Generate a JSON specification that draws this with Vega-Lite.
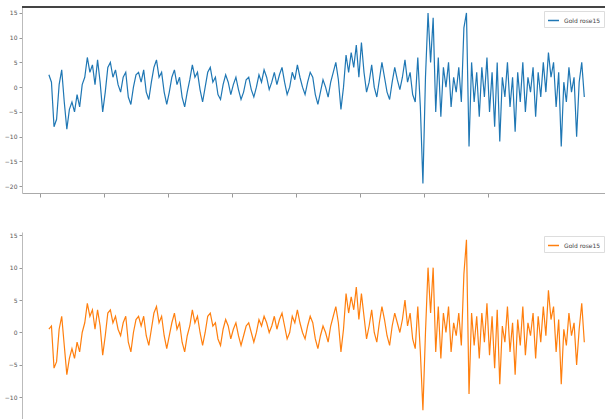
{
"$schema": "https://vega.github.io/schema/vega-lite/v6.json",
"padding": {"left": 4, "top": 6, "right": 0, "bottom": 0},
"autosize": {"type": "pad"},
"background": "white",
"config": {
  "view": {"stroke": null},
  "font": "DejaVu Sans",
  "axis": {"grid": false, "labelFontSize": 6, "labelColor": "#555", "domainColor": "#bbb", "tickColor": "#999", "tickSize": 3, "labelPadding": 2, "title": null},
  "legend": {"labelFontSize": 6, "labelColor": "#444", "symbolType": "stroke", "symbolStrokeWidth": 1.5, "symbolSize": 120, "strokeColor": "#ddd", "padding": 3, "orient": "top-right", "offset": 4, "title": null, "fillColor": "white"}
},
"data": {"values": [
{"t":14,"a":2.5,"b":0.5},{"t":18,"a":1,"b":1},{"t":22,"a":-8,"b":-5.5},{"t":26,"a":-6.5,"b":-4.5},{"t":30,"a":0.5,"b":0.5},{"t":34,"a":3.5,"b":2.5},{"t":38,"a":-3,"b":-2},{"t":42,"a":-8.5,"b":-6.5},{"t":46,"a":-4.5,"b":-4},{"t":50,"a":-3,"b":-2.5},
{"t":54,"a":-5,"b":-4},{"t":58,"a":-1.5,"b":-1.5},{"t":62,"a":-4,"b":-3},{"t":66,"a":0.5,"b":0},{"t":70,"a":2,"b":1.5},{"t":74,"a":6,"b":4.5},{"t":78,"a":3,"b":2.5},{"t":82,"a":4.5,"b":3.5},{"t":86,"a":0.5,"b":0.5},{"t":90,"a":5.5,"b":3.5},
{"t":94,"a":1,"b":1},{"t":98,"a":-5,"b":-3.5},{"t":102,"a":-1,"b":-0.5},{"t":106,"a":4,"b":3},{"t":110,"a":5,"b":3.5},{"t":114,"a":2,"b":1.5},{"t":118,"a":3.5,"b":2.5},{"t":122,"a":0.5,"b":0.5},{"t":126,"a":-1,"b":-0.5},{"t":130,"a":2,"b":1.5},
{"t":134,"a":3,"b":2.5},{"t":138,"a":-2,"b":-1.5},{"t":142,"a":-3.5,"b":-3},{"t":146,"a":0,"b":0},{"t":150,"a":2.5,"b":2},{"t":154,"a":3,"b":2.5},{"t":158,"a":1,"b":1},{"t":162,"a":3.5,"b":2.5},{"t":166,"a":-1,"b":-0.5},{"t":170,"a":-2.5,"b":-2},
{"t":174,"a":1,"b":0.5},{"t":178,"a":4,"b":3},{"t":182,"a":5.5,"b":4},{"t":186,"a":2,"b":1.5},{"t":190,"a":3,"b":2.5},{"t":194,"a":-1,"b":-0.5},{"t":198,"a":-3.5,"b":-2.5},{"t":202,"a":-1,"b":-0.5},{"t":206,"a":2,"b":1.5},{"t":210,"a":3.5,"b":3},
{"t":214,"a":0.5,"b":0.5},{"t":218,"a":2,"b":1.5},{"t":222,"a":-2,"b":-1.5},{"t":226,"a":-4,"b":-3},{"t":230,"a":-1,"b":-0.5},{"t":234,"a":1.5,"b":1},{"t":238,"a":4.5,"b":3.5},{"t":242,"a":2,"b":1.5},{"t":246,"a":3,"b":2.5},{"t":250,"a":-0.5,"b":0},
{"t":254,"a":-3,"b":-2},{"t":258,"a":0,"b":0},{"t":262,"a":3,"b":2.5},{"t":266,"a":4,"b":3},{"t":270,"a":1,"b":1},{"t":274,"a":2,"b":1.5},{"t":278,"a":-1.5,"b":-1},{"t":282,"a":-2.5,"b":-2},{"t":286,"a":0.5,"b":0.5},{"t":290,"a":2.5,"b":2},
{"t":294,"a":1,"b":1},{"t":298,"a":-1.5,"b":-1},{"t":302,"a":0.5,"b":0.5},{"t":306,"a":2,"b":1.5},{"t":310,"a":-0.5,"b":-0.5},{"t":314,"a":-2.5,"b":-2},{"t":318,"a":-1,"b":-0.5},{"t":322,"a":1.5,"b":1},{"t":326,"a":2,"b":1.5},{"t":330,"a":-0.5,"b":0},
{"t":334,"a":-2,"b":-1.5},{"t":338,"a":0,"b":0},{"t":342,"a":2.5,"b":2},{"t":346,"a":1,"b":1},{"t":350,"a":3.5,"b":2.5},{"t":354,"a":2,"b":1.5},{"t":358,"a":-0.5,"b":0},{"t":362,"a":1,"b":1},{"t":366,"a":3,"b":2.5},{"t":370,"a":0.5,"b":0.5},
{"t":374,"a":2.5,"b":2},{"t":378,"a":4,"b":3},{"t":382,"a":1,"b":1},{"t":386,"a":-1.5,"b":-1},{"t":390,"a":0,"b":0},{"t":394,"a":3,"b":2.5},{"t":398,"a":1.5,"b":1.5},{"t":402,"a":4.5,"b":3.5},{"t":406,"a":2,"b":1.5},{"t":410,"a":0,"b":0},
{"t":414,"a":-1.5,"b":-1},{"t":418,"a":1,"b":1},{"t":422,"a":3,"b":2.5},{"t":426,"a":2,"b":1.5},{"t":430,"a":-1.5,"b":-1},{"t":434,"a":-3.5,"b":-2.5},{"t":438,"a":-1,"b":-0.5},{"t":442,"a":1.5,"b":1},{"t":446,"a":0,"b":0},{"t":450,"a":-2,"b":-1.5},
{"t":454,"a":1,"b":1},{"t":458,"a":3,"b":2.5},{"t":462,"a":5,"b":4},{"t":466,"a":1.5,"b":1.5},{"t":470,"a":-4.5,"b":-3},{"t":474,"a":0,"b":0.5},{"t":478,"a":6.5,"b":6},{"t":482,"a":3,"b":3},{"t":486,"a":7,"b":5.5},{"t":490,"a":4,"b":3.5},
{"t":494,"a":8.5,"b":7},{"t":498,"a":2,"b":2},{"t":502,"a":9,"b":6},{"t":506,"a":3,"b":2.5},{"t":510,"a":-1,"b":-1},{"t":514,"a":1,"b":1},{"t":518,"a":4.5,"b":3.5},{"t":522,"a":0,"b":0},{"t":526,"a":-2,"b":-1.5},{"t":530,"a":1.5,"b":1.5},
{"t":534,"a":5,"b":4},{"t":538,"a":2,"b":2},{"t":542,"a":-1,"b":-0.5},{"t":546,"a":-2.5,"b":-2},{"t":550,"a":1,"b":1},{"t":554,"a":4,"b":3},{"t":558,"a":1.5,"b":1.5},{"t":562,"a":-0.5,"b":0},{"t":566,"a":2,"b":2},{"t":570,"a":5.5,"b":5},
{"t":574,"a":1,"b":1},{"t":578,"a":3,"b":3},{"t":582,"a":-1.5,"b":-1},{"t":586,"a":-3,"b":-2.5},{"t":590,"a":6,"b":4},{"t":594,"a":-4,"b":-3},{"t":598,"a":-19.5,"b":-12},{"t":602,"a":2,"b":0},{"t":606,"a":15,"b":10},{"t":610,"a":5,"b":3},
{"t":614,"a":14,"b":10},{"t":618,"a":-5,"b":-3},{"t":622,"a":6,"b":4},{"t":626,"a":-6,"b":-4},{"t":630,"a":4,"b":3},{"t":634,"a":0,"b":0},{"t":638,"a":5,"b":4},{"t":642,"a":-4,"b":-3},{"t":646,"a":2,"b":1.5},{"t":650,"a":-1,"b":-0.5},
{"t":654,"a":4,"b":3},{"t":658,"a":-3,"b":-2},{"t":662,"a":12,"b":9},{"t":666,"a":15,"b":14.3},{"t":670,"a":-12,"b":-9.5},{"t":674,"a":5,"b":3},{"t":678,"a":-3,"b":-2},{"t":682,"a":3,"b":2.5},{"t":686,"a":-6,"b":-4},{"t":690,"a":4,"b":3},
{"t":694,"a":-2,"b":-1.5},{"t":698,"a":6,"b":4.5},{"t":702,"a":-5,"b":-3.5},{"t":706,"a":3,"b":2.5},{"t":710,"a":-8,"b":-5.5},{"t":714,"a":5,"b":3.5},{"t":718,"a":-11,"b":-8},{"t":722,"a":2,"b":1},{"t":726,"a":-2,"b":-1.5},{"t":730,"a":5,"b":4},
{"t":734,"a":-4,"b":-3},{"t":738,"a":2,"b":1.5},{"t":742,"a":-9,"b":-6.5},{"t":746,"a":3,"b":2},{"t":750,"a":-3,"b":-2},{"t":754,"a":5,"b":4},{"t":758,"a":-5,"b":-3.5},{"t":762,"a":2,"b":1.5},{"t":766,"a":-1,"b":-0.5},{"t":770,"a":4,"b":3},
{"t":774,"a":-6,"b":-4},{"t":778,"a":3,"b":2.5},{"t":782,"a":-2,"b":-1.5},{"t":786,"a":5,"b":4},{"t":790,"a":-1,"b":-0.5},{"t":794,"a":7,"b":6.5},{"t":798,"a":2,"b":2},{"t":802,"a":5,"b":4},{"t":806,"a":-4,"b":-3},{"t":810,"a":3,"b":2},
{"t":814,"a":-12,"b":-8},{"t":818,"a":1,"b":0.5},{"t":822,"a":-3,"b":-2},{"t":826,"a":4,"b":3},{"t":830,"a":-1,"b":-0.5},{"t":834,"a":2,"b":1.5},{"t":838,"a":-10,"b":-5},{"t":842,"a":1,"b":0.5},{"t":846,"a":5,"b":4.5},{"t":850,"a":-2,"b":-1.5}
]},
"spacing": 34,
"resolve": {"scale": {"color": "independent"}, "legend": {"color": "independent"}},
"vconcat": [
  {
    "width": 586, "height": 186,
    "layer": [
      {"mark": {"type": "line", "strokeWidth": 1.2},
       "encoding": {
         "x": {"field": "t", "type": "quantitative", "scale": {"domain": [-28, 887], "nice": false, "zero": false}, "axis": {"values": [0,100,200,300,400,500,600,700], "labels": false, "tickSize": 4, "domainColor": "#aaa"}},
         "y": {"field": "a", "type": "quantitative", "scale": {"domain": [-21.4, 16.2], "nice": false, "zero": false}, "axis": {"values": [-20,-15,-10,-5,0,5,10,15], "labelOverlap": false, "labelBound": false, "labelFlush": false}},
         "color": {"datum": "Gold rose15", "type": "nominal", "scale": {"range": ["#1f77b4"]}}
       }},
      {"mark": {"type": "rule", "color": "#444", "strokeWidth": 1}, "encoding": {"y": {"datum": 16.2, "type": "quantitative", "axis": {"values": [-20,-15,-10,-5,0,5,10,15], "labelOverlap": false, "labelBound": false, "labelFlush": false}}}}
    ]
  },
  {
    "width": 586, "height": 188,
    "mark": {"type": "line", "strokeWidth": 1.2},
    "encoding": {
      "x": {"field": "t", "type": "quantitative", "scale": {"domain": [-28, 887], "nice": false, "zero": false}, "axis": {"values": [0,100,200,300,400,500,600,700], "labels": false, "tickSize": 4, "domainColor": "#aaa"}},
      "y": {"field": "b", "type": "quantitative", "scale": {"domain": [-13.5, 15.5], "nice": false, "zero": false}, "axis": {"values": [-10,-5,0,5,10,15], "labelOverlap": false, "labelBound": false, "labelFlush": false}},
      "color": {"datum": "Gold rose15", "type": "nominal", "scale": {"range": ["#ff7f0e"]}}
    }
  }
]
}
